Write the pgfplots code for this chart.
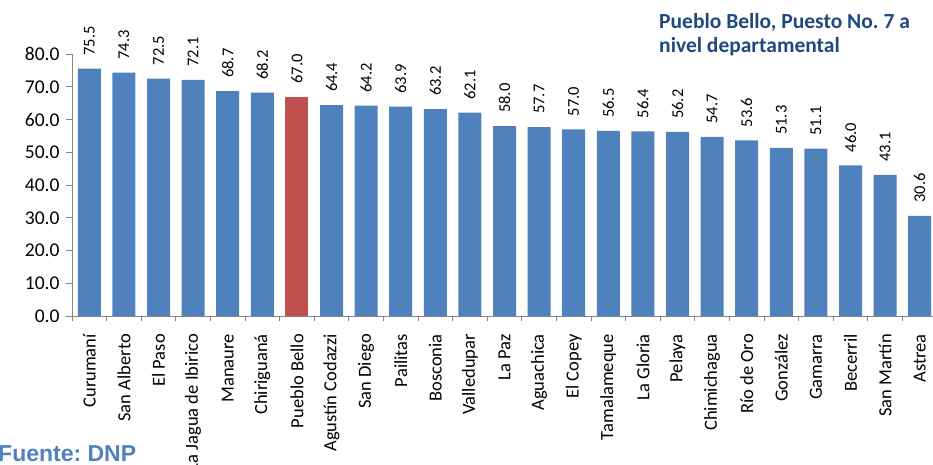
\documentclass[border=0pt]{standalone}
\usepackage{pgfplots}
\pgfplotsset{compat=1.18}
\usepackage{fontspec}
\setmainfont{Carlito}
\newfontfamily\arialfont{Liberation Sans}
\definecolor{barblue}{RGB}{79,129,189}
\definecolor{barred}{RGB}{192,80,77}
\definecolor{titleblue}{RGB}{31,73,125}
\definecolor{fuenteblue}{RGB}{79,129,189}
\definecolor{axisgray}{RGB}{134,134,134}
\frenchspacing
\begin{document}
\begin{tikzpicture}[x=1pt,y=1pt]
\useasboundingbox (0,0) rectangle (933,464);
\clip (0,0) rectangle (933,464);
\begin{axis}[
  at={(72pt,148pt)}, anchor=south west,
  scale only axis, width=865pt, height=262pt,
  xmin=-0.5, xmax=24.5, ymin=0, ymax=80,
  axis lines*=left,
  axis line style={axisgray, line width=0.8pt},
  ybar, bar width=23pt, bar shift=0pt,
  xtick={0,...,24},
  xticklabels={Curumaní, San Alberto, El Paso, La Jagua de Ibirico, Manaure, Chiriguaná, Pueblo Bello, Agustín Codazzi, San Diego, Pailitas, Bosconia, Valledupar, La Paz, Aguachica, El Copey, Tamalameque, La Gloria, Pelaya, Chimichagua, Río de Oro, González, Gamarra, Becerril, San Martín, Astrea},
  minor xtick={-0.5,0.5,...,24.5},
  major x tick style={draw=none},
  minor tick length=5pt,
  major tick length=6pt,
  tick align=outside,
  tick style={axisgray, line width=0.8pt},
  ytick={0,10,...,80},
  yticklabel style={font=\fontsize{19.5}{24}\selectfont, xshift=-3pt, /pgf/number format/.cd, fixed, fixed zerofill, precision=1, assume math mode=true},
  /pgf/number format/assume math mode=true,
  xticklabel style={rotate=90, anchor=east, font=\fontsize{18.5}{22}\selectfont, inner xsep=12pt},
  nodes near coords,
  nodes near coords style={font=\fontsize{16.5}{20}\selectfont, rotate=90, anchor=west, inner xsep=13pt, black, /pgf/number format/.cd, fixed, fixed zerofill, precision=1, assume math mode=true},
  clip=false,
]
\addplot[fill=barblue, draw=none] coordinates {
(0,75.5) (1,74.3) (2,72.5) (3,72.1) (4,68.7) (5,68.2)
(7,64.4) (8,64.2) (9,63.9) (10,63.2) (11,62.1) (12,58.0) (13,57.7) (14,57.0)
(15,56.5) (16,56.4) (17,56.2) (18,54.7) (19,53.6) (20,51.3) (21,51.1) (22,46.0) (23,43.1) (24,30.6)
};
\addplot[fill=barred, draw=none] coordinates {(6,67.0)};
\end{axis}
\node[anchor=base west, inner sep=0pt, text=titleblue, font=\fontsize{21.5}{23}\selectfont\bfseries] at (659,435) {Pueblo Bello, Puesto No. 7 a};
\node[anchor=base west, inner sep=0pt, text=titleblue, font=\fontsize{21.5}{23}\selectfont\bfseries] at (659,411) {nivel departamental};
\node[anchor=base west, inner sep=0pt, text=fuenteblue, font=\arialfont\bfseries\fontsize{23}{26}\selectfont] at (-2,3) {Fuente: DNP};
\end{tikzpicture}
\end{document}
